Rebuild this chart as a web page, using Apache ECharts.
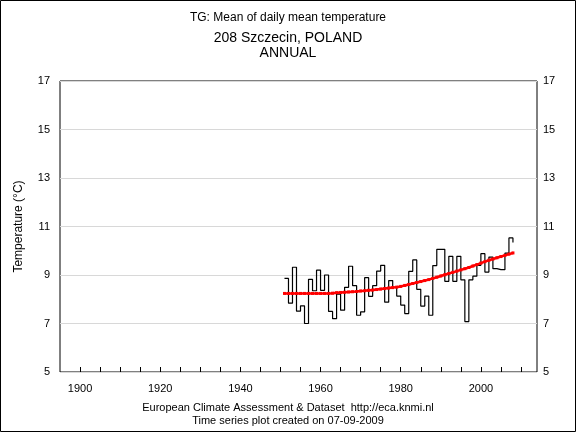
<!DOCTYPE html>
<html>
<head>
<meta charset="utf-8">
<script src="https://cdn.jsdelivr.net/npm/echarts@6/dist/echarts.min.js"></script>
<style>
html,body{margin:0;padding:0;background:#fff;}
#chart{width:576px;height:432px;}
</style>
</head>
<body>
<div id="chart"></div>
<script>
const years = [1951,1952,1953,1954,1955,1956,1957,1958,1959,1960,
  1961,1962,1963,1964,1965,1966,1967,1968,1969,1970,
  1971,1972,1973,1974,1975,1976,1977,1978,1979,1980,
  1981,1982,1983,1984,1985,1986,1987,1988,1989,1990,
  1991,1992,1993,1994,1995,1996,1997,1998,1999,2000,
  2001,2002,2003,2004,2005,2006,2007,2008];
const annualMean = [8.86,7.84,9.32,7.51,7.73,7.00,8.82,8.35,9.20,8.37,
  9.00,7.50,7.20,8.21,7.55,8.49,9.36,8.56,7.34,7.48,
  8.89,8.12,8.56,9.16,9.40,7.88,8.77,8.49,8.13,7.76,
  7.41,9.15,9.62,8.41,7.72,8.13,7.34,9.39,10.06,10.06,
  8.74,9.77,8.74,9.77,8.80,7.08,8.80,8.95,9.40,9.88,
  9.12,9.74,9.26,9.22,9.22,9.90,10.53,10.34];
const smoothTrend = [8.24,8.24,8.24,8.24,8.24,8.24,8.24,8.24,8.24,8.24,
  8.24,8.24,8.25,8.27,8.28,8.29,8.30,8.31,8.32,8.34,
  8.35,8.37,8.38,8.40,8.42,8.44,8.46,8.48,8.50,8.53,
  8.57,8.61,8.65,8.69,8.73,8.77,8.81,8.86,8.91,8.96,
  9.01,9.06,9.11,9.16,9.21,9.26,9.31,9.37,9.43,9.49,
  9.55,9.61,9.66,9.71,9.76,9.81,9.86,9.91];
const xLabelYears = [1900,1920,1940,1960,1980,2000];
const titleLines = ['TG: Mean of daily mean temperature','208 Szczecin, POLAND','ANNUAL'];
const footerLines = ['European Climate Assessment & Dataset  http://eca.knmi.nl','Time series plot created on 07-09-2009'];
const yAxisName = 'Temperature (°C)';

const FONT = '"Liberation Sans", Arial, sans-serif';
const chart = echarts.init(document.getElementById('chart'));
const meanData = years.map((y,i)=>[y, annualMean[i]]);
const trendData = years.map((y,i)=>[y, smoothTrend[i]]);

const yAxisCommon = {
  type:'value', min:5, max:17, interval:2,
  axisLine:{show:false}, axisTick:{show:false},
  splitLine:{show:false}
};

chart.setOption({
  animation:false,
  backgroundColor:'#ffffff',
  grid:{left:60, right:39, top:81, bottom:60, show:true, borderColor:'#000', borderWidth:1, backgroundColor:'transparent'},
  xAxis:{
    type:'value', min:1895, max:2014, interval:5,
    axisLine:{show:false},
    axisTick:{show:true, inside:true, length:5, lineStyle:{color:'#000', width:1}},
    splitLine:{show:false},
    axisLabel:{
      showMaxLabel:false, showMinLabel:false,
      margin:11, color:'#000', fontFamily:FONT, fontSize:11,
      formatter:function(v){ return xLabelYears.indexOf(v) >= 0 ? String(v) : ''; }
    }
  },
  yAxis:[
    Object.assign({}, yAxisCommon, {
      position:'left',
      splitLine:{show:true, lineStyle:{color:'#d8d8d8', width:1}},
      axisLabel:{color:'#000', fontFamily:FONT, fontSize:11, margin:10},
      name: yAxisName, nameLocation:'middle', nameGap:35, nameRotate:90,
      nameTextStyle:{color:'#000', fontFamily:FONT, fontSize:12}
    }),
    Object.assign({}, yAxisCommon, {
      position:'right',
      axisLabel:{color:'#000', fontFamily:FONT, fontSize:11, margin:6}
    })
  ],
  series:[
    {
      type:'line', data:meanData, step:'end', showSymbol:false,
      lineStyle:{color:'#000', width:1.2}, z:2
    },
    {
      type:'line', data:trendData, symbol:'rect', symbolSize:3, showSymbol:true,
      itemStyle:{color:'#ff0000'},
      lineStyle:{color:'#ff0000', width:2.5}, z:3
    }
  ],
  graphic:[
    {type:'rect', shape:{x:0.5,y:0.5,width:575,height:431}, style:{fill:'none', stroke:'#000', lineWidth:1}, silent:true},
    {type:'text', left:'center', top:12, style:{text:titleLines[0], fill:'#000', font:'12px ' + FONT}},
    {type:'text', left:'center', top:31, style:{text:titleLines[1], fill:'#000', font:'14px ' + FONT}},
    {type:'text', left:'center', top:46, style:{text:titleLines[2], fill:'#000', font:'14px ' + FONT}},
    {type:'text', left:'center', top:402, style:{text:footerLines[0], fill:'#000', font:'11px ' + FONT}},
    {type:'text', left:'center', top:415, style:{text:footerLines[1], fill:'#000', font:'11px ' + FONT}}
  ]
});
</script>
</body>
</html>
